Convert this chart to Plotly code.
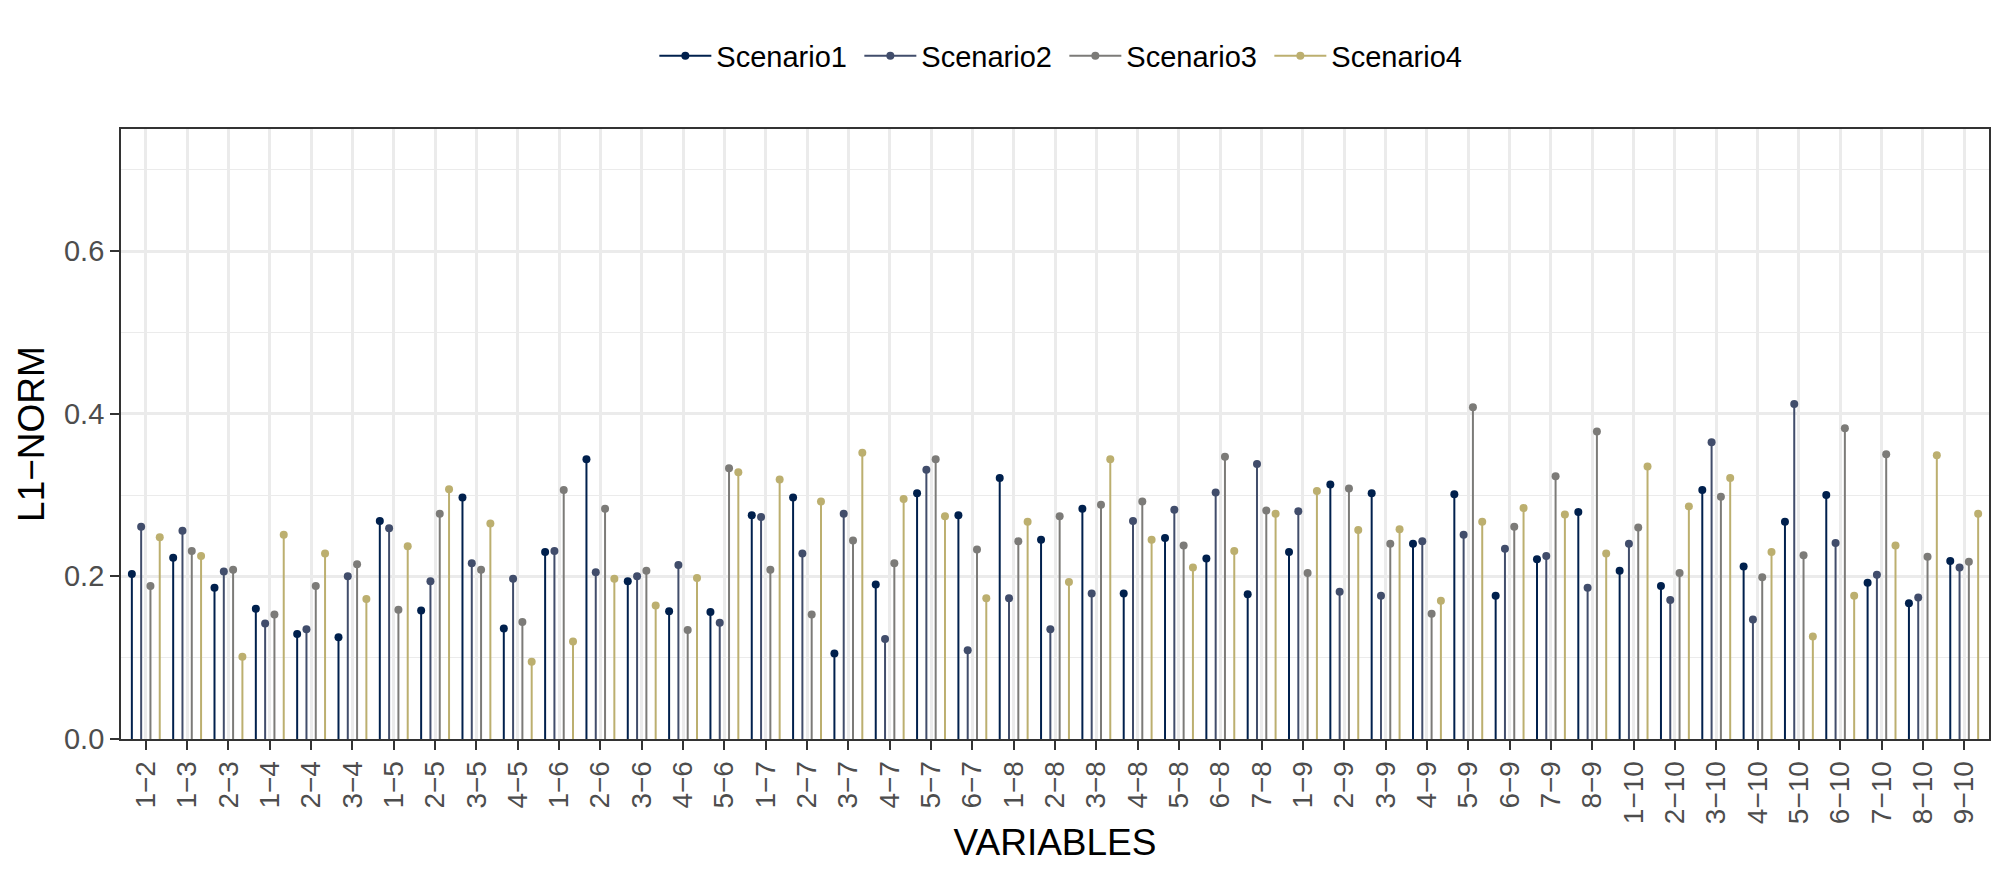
import plotly.graph_objects as go

categories = [
    "1\u22122", "1\u22123", "2\u22123", "1\u22124", "2\u22124", "3\u22124",
    "1\u22125", "2\u22125", "3\u22125", "4\u22125",
    "1\u22126", "2\u22126", "3\u22126", "4\u22126", "5\u22126",
    "1\u22127", "2\u22127", "3\u22127", "4\u22127", "5\u22127", "6\u22127",
    "1\u22128", "2\u22128", "3\u22128", "4\u22128", "5\u22128", "6\u22128", "7\u22128",
    "1\u22129", "2\u22129", "3\u22129", "4\u22129", "5\u22129", "6\u22129", "7\u22129", "8\u22129",
    "1\u221210", "2\u221210", "3\u221210", "4\u221210", "5\u221210", "6\u221210", "7\u221210", "8\u221210", "9\u221210",
]

scenario1 = [0.203, 0.223, 0.186, 0.160, 0.129, 0.125, 0.268, 0.158, 0.297, 0.136,
             0.230, 0.344, 0.194, 0.157, 0.156, 0.275, 0.297, 0.105, 0.190, 0.302,
             0.275, 0.321, 0.245, 0.283, 0.179, 0.247, 0.222, 0.178, 0.230, 0.313,
             0.302, 0.240, 0.301, 0.176, 0.221, 0.279, 0.207, 0.188, 0.306, 0.212,
             0.267, 0.300, 0.192, 0.167, 0.219]
scenario2 = [0.261, 0.256, 0.206, 0.142, 0.135, 0.200, 0.259, 0.194, 0.216, 0.197,
             0.231, 0.205, 0.200, 0.214, 0.143, 0.273, 0.228, 0.277, 0.123, 0.331,
             0.109, 0.173, 0.135, 0.179, 0.268, 0.282, 0.303, 0.338, 0.280, 0.181,
             0.176, 0.243, 0.251, 0.234, 0.225, 0.186, 0.240, 0.171, 0.365, 0.147,
             0.412, 0.241, 0.202, 0.174, 0.211]
scenario3 = [0.188, 0.231, 0.208, 0.153, 0.188, 0.215, 0.159, 0.277, 0.208, 0.144,
             0.306, 0.283, 0.207, 0.134, 0.333, 0.208, 0.153, 0.244, 0.216, 0.344,
             0.233, 0.243, 0.274, 0.288, 0.292, 0.238, 0.347, 0.281, 0.204, 0.308,
             0.240, 0.154, 0.408, 0.261, 0.323, 0.378, 0.260, 0.204, 0.298, 0.199,
             0.226, 0.382, 0.350, 0.224, 0.218]
scenario4 = [0.248, 0.225, 0.101, 0.251, 0.228, 0.172, 0.237, 0.307, 0.265, 0.095,
             0.120, 0.197, 0.164, 0.198, 0.328, 0.319, 0.292, 0.352, 0.295, 0.274,
             0.173, 0.267, 0.193, 0.344, 0.245, 0.211, 0.231, 0.277, 0.305, 0.257,
             0.258, 0.170, 0.267, 0.284, 0.276, 0.228, 0.335, 0.286, 0.321, 0.230,
             0.126, 0.176, 0.238, 0.349, 0.277]

series_names = ["Scenario1", "Scenario2", "Scenario3", "Scenario4"]
series_values = [scenario1, scenario2, scenario3, scenario4]
colors = ["#00204D", "#414D6B", "#7C7B78", "#BCAF6F"]

dodge_width = 0.9
n_groups = len(series_names)
FONT = "Liberation Sans, Arial, Helvetica, sans-serif"

fig = go.Figure()
for k, (name, vals, col) in enumerate(zip(series_names, series_values, colors)):
    off = -dodge_width / 2 + dodge_width / n_groups * (k + 0.5)
    xs = [i + off for i in range(len(categories))]
    sx, sy = [], []
    for x, v in zip(xs, vals):
        sx += [x, x, None]
        sy += [0, v, None]
    fig.add_trace(go.Scatter(x=sx, y=sy, mode="lines", line=dict(color=col, width=2),
                             showlegend=False, legendgroup=name, hoverinfo="skip"))
    fig.add_trace(go.Scatter(x=xs, y=vals, mode="markers", marker=dict(color=col, size=8),
                             showlegend=False, legendgroup=name, name=name,
                             text=categories, hovertemplate="%{text}: %{y}<extra>" + name + "</extra>"))
    fig.add_trace(go.Scatter(x=[None], y=[None], mode="lines+markers", name=name,
                             line=dict(color=col, width=2), marker=dict(color=col, size=8),
                             legendgroup=name))

fig.update_layout(
    width=2007, height=886,
    margin=dict(l=121, r=18, t=129, b=147),
    paper_bgcolor="white", plot_bgcolor="white",
    font=dict(family=FONT, color="black"),
    legend=dict(orientation="h", x=0.505, xanchor="center", y=1.12, yanchor="middle",
                font=dict(size=29, color="black"), itemwidth=52, traceorder="normal",
                entrywidth=138, entrywidthmode="pixels"),
    showlegend=True,
)
fig.update_xaxes(
    range=[-0.6, len(categories) - 0.4],
    tickmode="array", tickvals=list(range(len(categories))), ticktext=categories,
    tickangle=-90, tickfont=dict(size=28, color="#4D4D4D"),
    ticks="outside", ticklen=9, tickwidth=2, tickcolor="#333333",
    showgrid=True, gridcolor="#EBEBEB", gridwidth=2.5,
    showline=True, mirror=True, linecolor="#333333", linewidth=1.8,
    zeroline=False,
    title=dict(text="VARIABLES", font=dict(size=37, color="black"), standoff=6),
)
fig.update_yaxes(
    range=[0, 0.75], tickmode="linear", tick0=0, dtick=0.2, tickformat=".1f",
    tickfont=dict(size=29, color="#4D4D4D"),
    ticks="outside", ticklen=9, tickwidth=2, tickcolor="#333333",
    showgrid=True, gridcolor="#EBEBEB", gridwidth=2.5,
    minor=dict(dtick=0.1, tick0=0, showgrid=True, gridcolor="#EBEBEB", gridwidth=1.3, ticks=""),
    showline=True, mirror=True, linecolor="#333333", linewidth=1.8,
    zeroline=False,
    title=dict(text="L1\u2212NORM", font=dict(size=37, color="black"), standoff=8),
)

fig.write_html("out.html")
